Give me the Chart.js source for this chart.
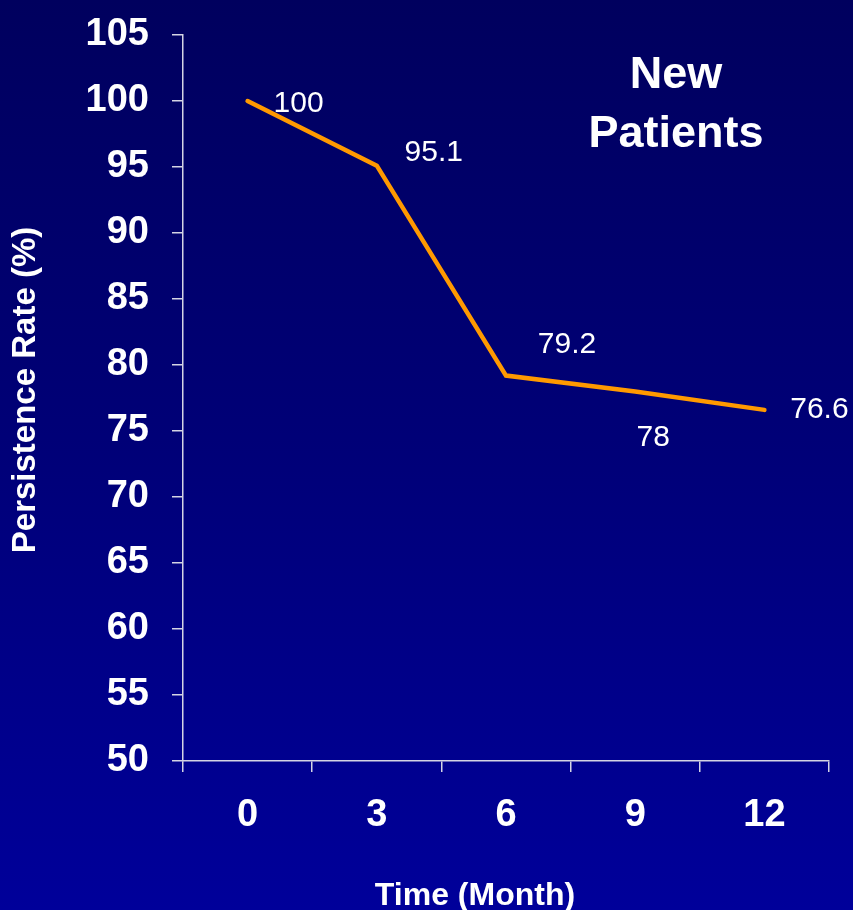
<!DOCTYPE html>
<html>
<head>
<meta charset="utf-8">
<title>Persistence Rate – New Patients</title>
<script src="https://cdn.jsdelivr.net/npm/chart.js@4/dist/chart.umd.min.js"></script>
<style>
  html, body { margin: 0; padding: 0; }
  body {
    width: 853px; height: 910px; overflow: hidden;
    background: linear-gradient(to bottom, #00005e 0%, #000078 50%, #00009a 100%);
  }
  canvas { display: block; }
</style>
</head>
<body>
<canvas id="chart" width="853" height="910"></canvas>
<script>
// Months since start of therapy
const months = ['0', '3', '6', '9', '12'];
// Persistence rate (%) at each month
const persistence = [100, 95.1, 79.2, 78, 76.6];
// Value labels shown beside each point
const valueLabels = ['100', '95.1', '79.2', '78', '76.6'];

const FONT = '"Liberation Sans", Arial, Helvetica, sans-serif';
const AXIS_COLOR = '#d4d4e4';

// Where each value label sits relative to its point (pixels)
const labelOffsets = [[51, 1], [57, -15], [61, -33], [18, 44], [55, -2]];

const valueLabelPlugin = {
  id: 'valueLabels',
  afterDatasetsDraw(chart) {
    const { ctx } = chart;
    const meta = chart.getDatasetMeta(0);
    ctx.save();
    ctx.fillStyle = '#ffffff';
    ctx.font = '30px ' + FONT;
    ctx.textAlign = 'center';
    ctx.textBaseline = 'middle';
    meta.data.forEach((pt, i) => {
      const [dx, dy] = labelOffsets[i];
      ctx.fillText(valueLabels[i], pt.x + dx, pt.y + dy + 2);
    });
    ctx.restore();
  }
};

const textPlugin = {
  id: 'chartTexts',
  afterDraw(chart) {
    const { ctx } = chart;
    ctx.save();
    ctx.fillStyle = '#ffffff';
    ctx.textAlign = 'center';
    ctx.textBaseline = 'alphabetic';
    // panel heading
    ctx.font = 'bold 45px ' + FONT;
    ctx.fillText('New', 676, 88);
    ctx.fillText('Patients', 676, 147);
    // x axis title
    ctx.font = 'bold 32px ' + FONT;
    ctx.fillText('Time (Month)', 475, 905);
    // y axis title
    ctx.translate(26, 390);
    ctx.rotate(-Math.PI / 2);
    ctx.font = 'bold 33px ' + FONT;
    ctx.textBaseline = 'middle';
    ctx.fillText('Persistence Rate (%)', 0, 0);
    ctx.restore();
  }
};

new Chart(document.getElementById('chart'), {
  type: 'line',
  data: {
    labels: months,
    datasets: [{
      data: persistence,
      borderColor: '#ff9900',
      borderWidth: 4.5,
      borderCapStyle: 'round',
      borderJoinStyle: 'miter',
      tension: 0,
      pointRadius: 0,
      fill: false
    }]
  },
  options: {
    responsive: false,
    animation: false,
    devicePixelRatio: 1,
    layout: { padding: { top: 35, right: 24, left: 0, bottom: 0 } },
    plugins: { legend: { display: false }, tooltip: { enabled: false } },
    scales: {
      x: {
        type: 'category',
        offset: true,
        grid: {
          offset: true,
          drawOnChartArea: false,
          drawTicks: true,
          tickLength: 11,
          color: AXIS_COLOR,
          lineWidth: 1.5
        },
        border: { display: true, color: AXIS_COLOR, width: 1.5 },
        ticks: {
          color: '#ffffff',
          font: { family: FONT, size: 38, weight: 'bold' },
          padding: 21,
          maxRotation: 0
        },
        afterFit(scale) {
          scale.height = 149;
          scale.paddingLeft = 0;
          scale.paddingRight = 0;
        }
      },
      y: {
        min: 50,
        max: 105,
        grid: {
          drawOnChartArea: false,
          drawTicks: true,
          tickLength: 11,
          color: AXIS_COLOR,
          lineWidth: 1.5
        },
        border: { display: true, color: AXIS_COLOR, width: 1.5 },
        ticks: {
          stepSize: 5,
          color: '#ffffff',
          font: { family: FONT, size: 38, weight: 'bold' },
          padding: 23
        },
        afterFit(scale) {
          scale.width = 183;
          scale.paddingTop = 0;
          scale.paddingBottom = 0;
        }
      }
    }
  },
  plugins: [valueLabelPlugin, textPlugin]
});
</script>
</body>
</html>
